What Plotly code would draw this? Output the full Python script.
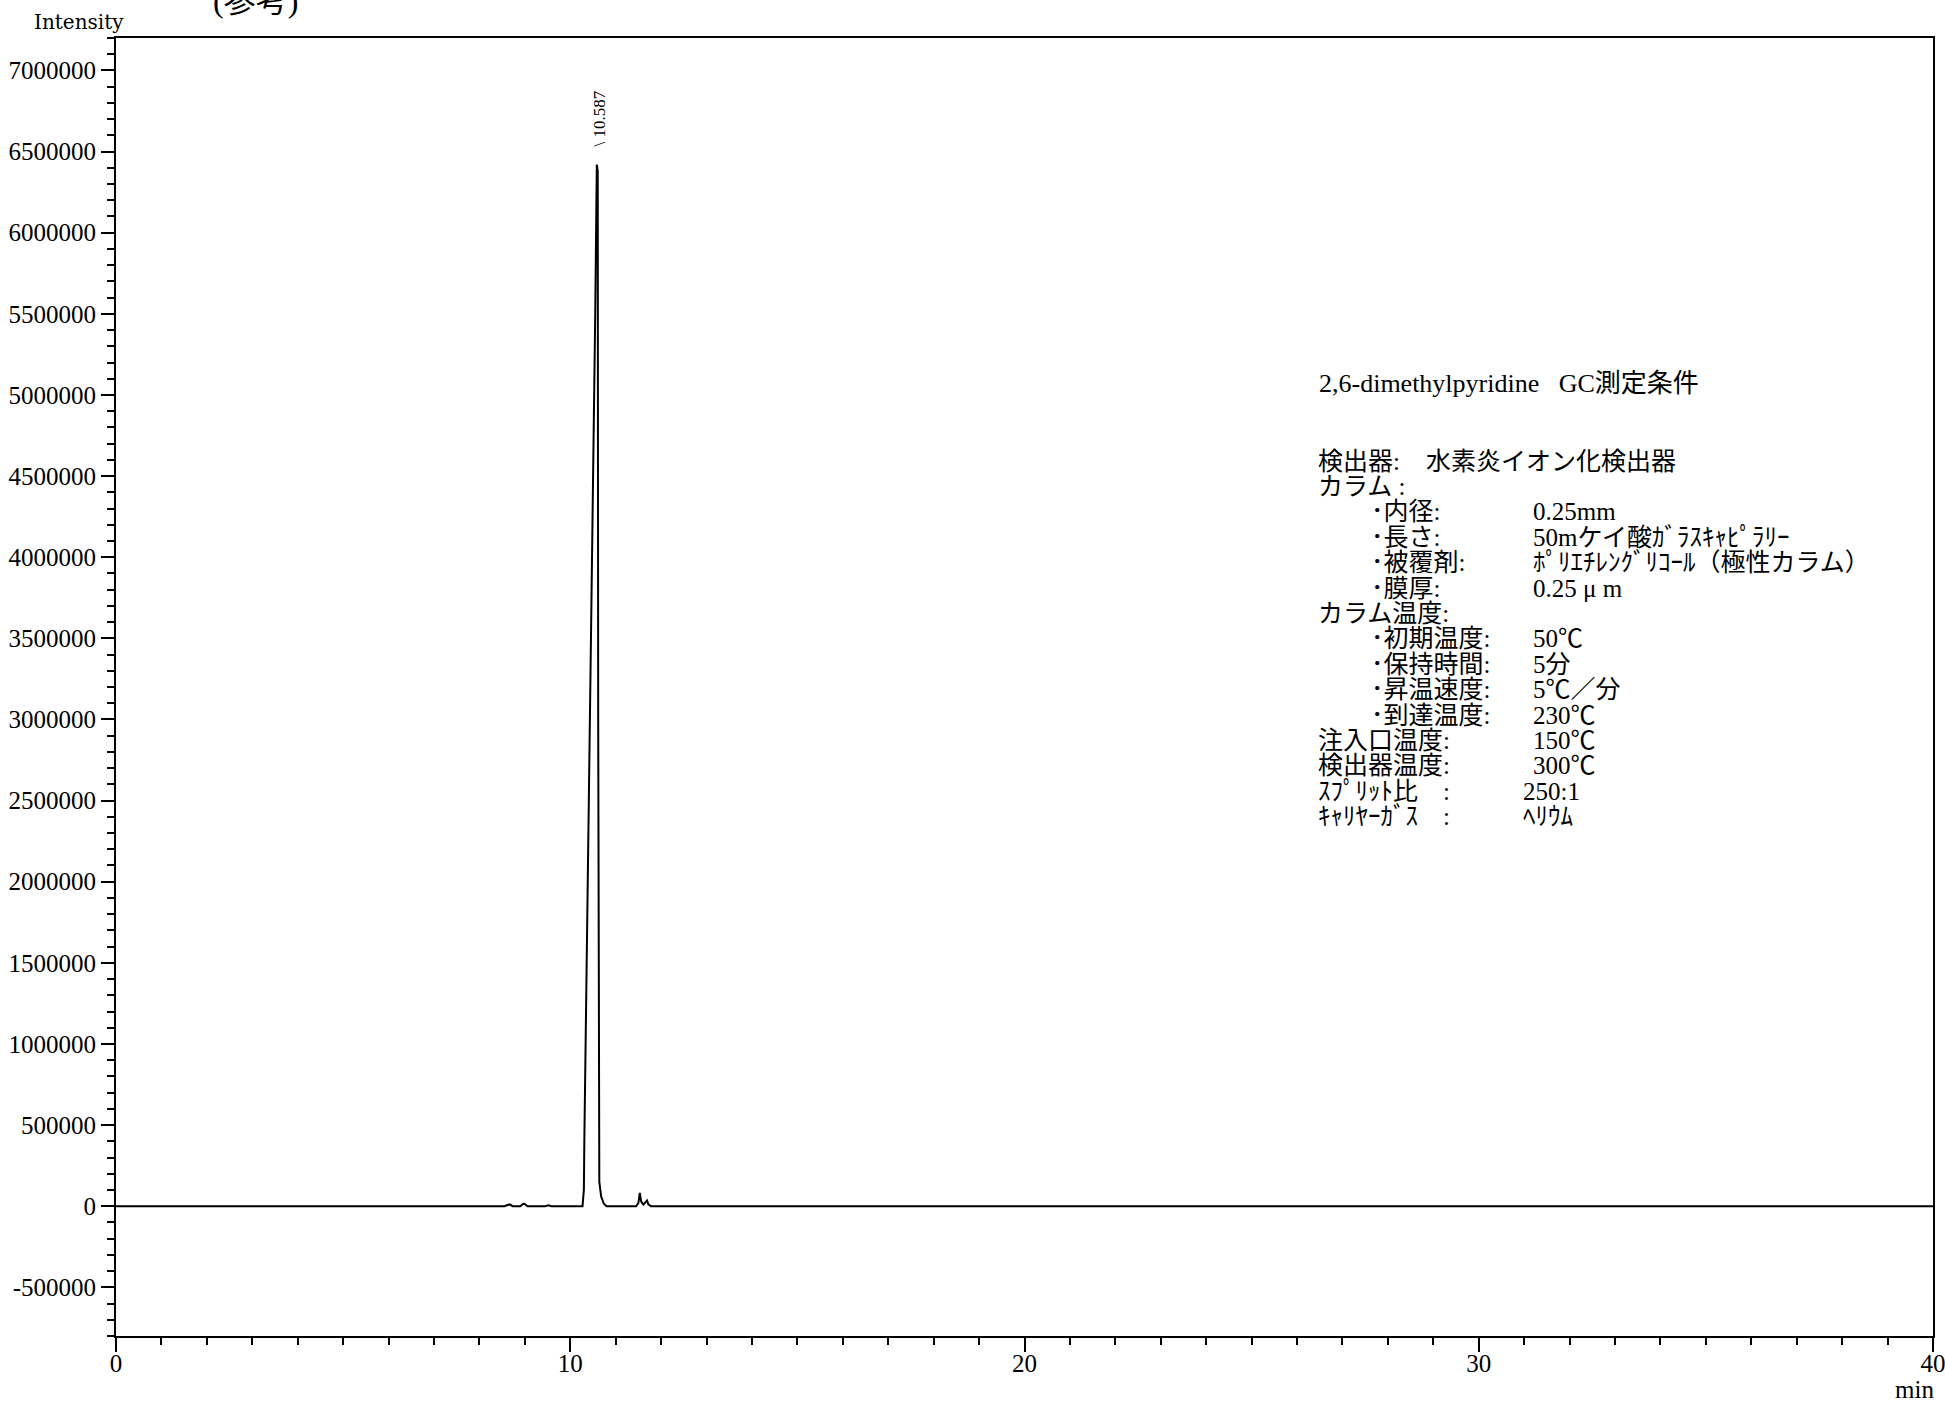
import plotly.graph_objects as go

# ---------------- data ----------------
time_min = [0, 8.55, 8.62, 8.67, 8.73, 8.90, 8.96, 8.99, 9.06, 9.45, 9.52, 9.58,
            10.27, 10.30, 10.31, 10.35, 10.40, 10.45, 10.50, 10.55, 10.585,
            10.605, 10.615, 10.625, 10.64, 10.68, 10.74, 10.80,
            11.45, 11.50, 11.53, 11.56, 11.61, 11.66, 11.69, 11.72, 11.78, 40]
intensity = [0, 0, 7000, 11000, 0, 0, 14000, 15000, 0, 0, 5000, 0,
             0, 100000, 400000, 1200000, 2200000, 3300000, 4400000, 5500000, 6420000,
             6380000, 3000000, 300000, 150000, 60000, 15000, 0,
             0, 20000, 82000, 30000, 10000, 25000, 35000, 12000, 0, 0]

peak_rt = 10.587
peak_label = "10.587"

x_tick_vals = [0, 10, 20, 30, 40]
x_tick_text = ["0", "10", "20", "30", "40"]
y_tick_vals = [-500000, 0, 500000, 1000000, 1500000, 2000000, 2500000, 3000000,
               3500000, 4000000, 4500000, 5000000, 5500000, 6000000, 6500000, 7000000]
y_tick_text = ["-500000", "0", "500000", "1000000", "1500000", "2000000", "2500000",
               "3000000", "3500000", "4000000", "4500000", "5000000", "5500000",
               "6000000", "6500000", "7000000"]

title_text = "2,6-dimethylpyridine\u00a0\u00a0\u00a0GC測定条件"
cond_labels = ["検出器:", "カラム :", "･内径:", "･長さ:", "･被覆剤:", "･膜厚:",
               "カラム温度:", "･初期温度:", "･保持時間:", "･昇温速度:", "･到達温度:",
               "注入口温度:", "検出器温度:", "ｽﾌﾟﾘｯﾄ比\u3000:", "ｷｬﾘﾔｰｶﾞｽ\u3000:"]
cond_values = ["水素炎イオン化検出器", "", "0.25mm", "50mケイ酸ｶﾞﾗｽｷｬﾋﾟﾗﾘｰ",
               "ﾎﾟﾘｴﾁﾚﾝｸﾞﾘｺｰﾙ（極性カラム）", "0.25 μ m", "", "50℃", "5分", "5℃／分",
               "230℃", "150℃", "300℃", "250:1", "ﾍﾘｳﾑ"]

# ---------------- layout geometry (pixels) ----------------
W, H = 1945, 1402
L, R, T, B = 116, 12, 38, 66
PW, PH = W - L - R, H - T - B

def px(xp):
    return (xp - L) / PW

def py(yp):
    return (H - B - yp) / PH

SERIF = "Liberation Serif, Noto Sans CJK JP"
TXT = dict(family=SERIF, size=25, color="black")

fig = go.Figure()
fig.add_trace(go.Scatter(x=time_min, y=intensity, mode="lines",
                         line=dict(color="black", width=2), hoverinfo="x+y",
                         showlegend=False))

annotations = []
# peak label (rotated)
apex = max(intensity)
annotations.append(dict(x=peak_rt, y=apex, xref="x", yref="y", text="\\ " + peak_label,
                        textangle=-90, showarrow=False, xanchor="center", yanchor="bottom",
                        xshift=3, yshift=16, font=dict(family=SERIF, size=17, color="black")))
# axis titles
annotations.append(dict(x=px(32), y=py(22), xref="paper", yref="paper", text="Intensity",
                        showarrow=False, xanchor="left", yanchor="middle",
                        font=dict(family="DejaVu Serif", size=20, color="black")))
annotations.append(dict(x=px(1893), y=py(1389), xref="paper", yref="paper", text="min",
                        showarrow=False, xanchor="left", yanchor="middle",
                        font=dict(family=SERIF, size=25, color="black")))
# clipped heading at top
annotations.append(dict(x=px(211), y=py(1), xref="paper", yref="paper", text="(参考)",
                        showarrow=False, xanchor="left", yanchor="middle",
                        font=dict(family=SERIF, size=32, color="black")))
# conditions block
annotations.append(dict(x=px(1317), y=py(383), xref="paper", yref="paper", text=title_text,
                        showarrow=False, xanchor="left", yanchor="middle",
                        font=dict(family=SERIF, size=26, color="black")))
line_y0, line_dy = 461, 25.4
for i, (lab, val) in enumerate(zip(cond_labels, cond_values)):
    yy = line_y0 + i * line_dy
    lx = 1369 if lab.startswith("･") else 1316
    annotations.append(dict(x=px(lx), y=py(yy), xref="paper", yref="paper", text=lab,
                            showarrow=False, xanchor="left", yanchor="middle", font=TXT))
    if val:
        if i == 0:
            vx = 1424
        elif i >= 13:
            vx = 1521
        else:
            vx = 1531
        annotations.append(dict(x=px(vx), y=py(yy), xref="paper", yref="paper", text=val,
                                showarrow=False, xanchor="left", yanchor="middle", font=TXT))

axis_common = dict(showline=True, linecolor="black", linewidth=2, mirror=True,
                   showgrid=False, zeroline=False, ticks="outside", tickcolor="black",
                   tickwidth=2, automargin=False, ticklabeloverflow="allow")

fig.update_layout(
    width=W, height=H,
    margin=dict(l=L, r=R, t=T, b=B, pad=0, autoexpand=False),
    paper_bgcolor="white", plot_bgcolor="white",
    showlegend=False,
    annotations=annotations,
    xaxis=dict(range=[0, 40], tickmode="array", tickvals=x_tick_vals, ticktext=x_tick_text,
               ticklen=14, ticklabelstandoff=-10,
               tickfont=dict(family=SERIF, size=25, color="black"),
               minor=dict(dtick=1, tick0=0, ticks="outside", ticklen=7, tickwidth=1.5,
                          tickcolor="black", showgrid=False),
               **axis_common),
    yaxis=dict(range=[-800000, 7200000], tickmode="array", tickvals=y_tick_vals,
               ticktext=y_tick_text, ticklen=13, ticklabelstandoff=0,
               tickfont=dict(family=SERIF, size=25, color="black"),
               minor=dict(dtick=100000, tick0=0, ticks="outside", ticklen=7, tickwidth=1.5,
                          tickcolor="black", showgrid=False),
               **axis_common),
)

fig.write_html("out.html", config={"displayModeBar": False},
               post_script="document.body.style.margin='0';document.body.style.overflow='hidden';")
